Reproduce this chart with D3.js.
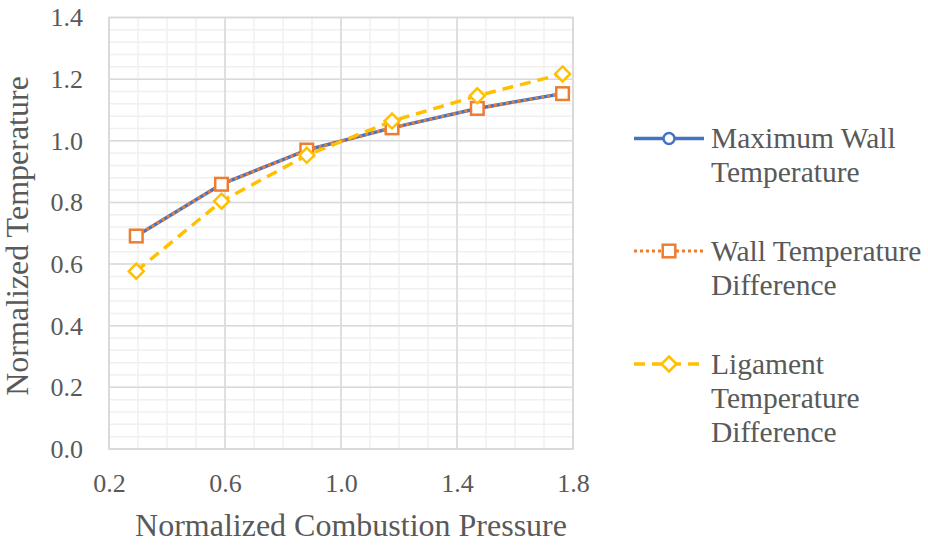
<!DOCTYPE html>
<html>
<head>
<meta charset="utf-8">
<script src="https://cdn.jsdelivr.net/npm/d3@7"></script>
<style>
  html, body { margin: 0; padding: 0; background: #fff; }
</style>
</head>
<body>
<svg id="chart" width="928" height="545"></svg>
<script>
// Normalized combustion pressure (x) and the three normalized temperature series
const pressure = [0.294, 0.588, 0.882, 1.176, 1.470, 1.764];
const maxWallTemp = [0.691, 0.859, 0.970, 1.042, 1.105, 1.153];
const wallTempDiff = [0.691, 0.859, 0.970, 1.042, 1.105, 1.153];
const ligamentTempDiff = [0.577, 0.804, 0.953, 1.064, 1.146, 1.217];

const seriesNames = [
  ["Maximum Wall", "Temperature"],
  ["Wall Temperature", "Difference"],
  ["Ligament", "Temperature", "Difference"]
];
const xTicks = [0.2, 0.6, 1.0, 1.4, 1.8];
const yTicks = [0.0, 0.2, 0.4, 0.6, 0.8, 1.0, 1.2, 1.4];

const FONT = "Liberation Serif";
const textColor = "#595959";

const svg = d3.select("#chart").attr("font-family", FONT);
const plot = { left: 109, right: 573, top: 17.5, bottom: 449 };

const x = d3.scaleLinear().domain([0.2, 1.8]).range([plot.left, plot.right]);
const y = d3.scaleLinear().domain([0, 1.4]).range([plot.bottom, plot.top]);

// Minor gridlines
const xMinor = d3.range(0.2, 1.8001, 0.1);
const yMinor = d3.range(0, 1.4001, 0.04);
const grid = svg.append("g");
grid.selectAll("line.xm").data(xMinor).join("line")
  .attr("x1", d => x(d)).attr("x2", d => x(d))
  .attr("y1", plot.top).attr("y2", plot.bottom)
  .attr("stroke", "#F0F0F0").attr("stroke-width", 1.5);
grid.selectAll("line.ym").data(yMinor).join("line")
  .attr("x1", plot.left).attr("x2", plot.right)
  .attr("y1", d => y(d)).attr("y2", d => y(d))
  .attr("stroke", "#F0F0F0").attr("stroke-width", 1.5);

// Major gridlines
grid.selectAll("line.xM").data(xTicks).join("line")
  .attr("x1", d => x(d)).attr("x2", d => x(d))
  .attr("y1", plot.top).attr("y2", plot.bottom)
  .attr("stroke", "#D9D9D9").attr("stroke-width", 1.5);
grid.selectAll("line.yM").data(yTicks).join("line")
  .attr("x1", plot.left).attr("x2", plot.right)
  .attr("y1", d => y(d)).attr("y2", d => y(d))
  .attr("stroke", "#D9D9D9").attr("stroke-width", 1.5);

// Plot frame
svg.append("rect")
  .attr("x", plot.left).attr("y", plot.top)
  .attr("width", plot.right - plot.left).attr("height", plot.bottom - plot.top)
  .attr("fill", "none").attr("stroke", "#D9D9D9").attr("stroke-width", 1.5);

// Axes (labels only, using d3 axis generators)
const xAxis = svg.append("g")
  .attr("transform", `translate(0,${plot.bottom})`)
  .call(d3.axisBottom(x).tickValues(xTicks).tickFormat(d3.format(".1f")).tickSize(0).tickPadding(25));
const yAxis = svg.append("g")
  .attr("transform", `translate(${plot.left},0)`)
  .call(d3.axisLeft(y).tickValues(yTicks).tickFormat(d3.format(".1f")).tickSize(0).tickPadding(26));
[xAxis, yAxis].forEach(a => {
  a.attr("font-family", FONT).attr("font-size", 26);
  a.select(".domain").remove();
  a.selectAll("text").attr("fill", textColor);
});

// Axis titles
svg.append("text")
  .attr("x", 351).attr("y", 536)
  .attr("text-anchor", "middle")
  .attr("fill", textColor).attr("font-size", 32)
  .text("Normalized Combustion Pressure");
svg.append("text")
  .attr("transform", "translate(28,236) rotate(-90)")
  .attr("text-anchor", "middle")
  .attr("fill", textColor).attr("font-size", 32)
  .text("Normalized Temperature");

// Series
const series = [
  { values: maxWallTemp, color: "#4472C4", dash: null, width: 3.5, marker: "circle" },
  { values: wallTempDiff, color: "#ED7D31", dash: "3 3", width: 3, marker: "square" },
  { values: ligamentTempDiff, color: "#FFC000", dash: "11 7", width: 3.5, marker: "diamond" }
];

const line = d3.line().x(d => x(d[0])).y(d => y(d[1]));

function drawMarker(g, kind, cx, cy, color) {
  if (kind === "circle") {
    g.append("circle").attr("cx", cx).attr("cy", cy).attr("r", 5.5)
      .attr("fill", "#fff").attr("stroke", color).attr("stroke-width", 2.5);
  } else if (kind === "square") {
    const s = 6.3;
    g.append("rect").attr("x", cx - s).attr("y", cy - s).attr("width", 2 * s).attr("height", 2 * s)
      .attr("fill", "#fff").attr("stroke", color).attr("stroke-width", 2.5);
  } else {
    const s = 7.5;
    g.append("path").attr("d", `M${cx},${cy - s}L${cx + s},${cy}L${cx},${cy + s}L${cx - s},${cy}Z`)
      .attr("fill", "#fff").attr("stroke", color).attr("stroke-width", 2.5);
  }
}

series.forEach(s => {
  const pts = pressure.map((p, i) => [p, s.values[i]]);
  const g = svg.append("g");
  g.append("path").attr("d", line(pts))
    .attr("fill", "none").attr("stroke", s.color).attr("stroke-width", s.width)
    .attr("stroke-dasharray", s.dash).attr("stroke-linejoin", "round");
  pts.forEach(p => drawMarker(g, s.marker, x(p[0]), y(p[1]), s.color));
});

// Legend
const legendY = [138.5, 251, 364];
const legend = svg.append("g");
series.forEach((s, i) => {
  const cy = legendY[i];
  legend.append("line").attr("x1", 634).attr("x2", 704).attr("y1", cy).attr("y2", cy)
    .attr("stroke", s.color).attr("stroke-width", s.width)
    .attr("stroke-dasharray", s.dash);
  drawMarker(legend, s.marker, 669, cy, s.color);
  const t = legend.append("text").attr("x", 711).attr("y", cy + 9.5)
    .attr("fill", textColor).attr("font-size", 29.5);
  seriesNames[i].forEach((ln, j) => {
    t.append("tspan").attr("x", 711).attr("dy", j === 0 ? 0 : 34).text(ln);
  });
});
</script>
</body>
</html>
